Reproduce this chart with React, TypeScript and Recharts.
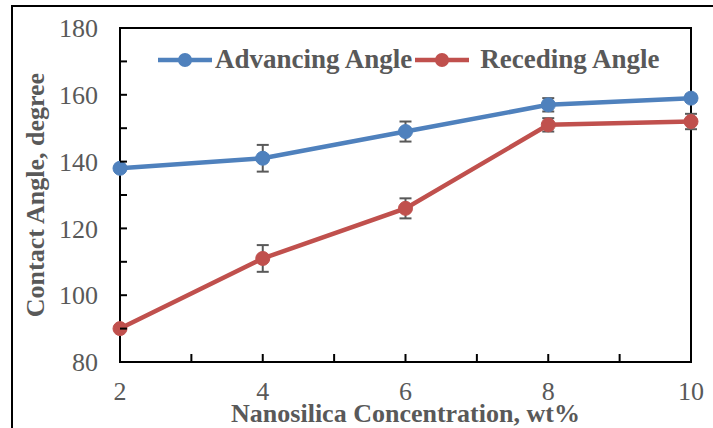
import { ComposedChart, Line, XAxis, YAxis, ErrorBar, Legend, ReferenceArea } from "recharts"

const concentrations = [2, 4, 6, 8, 10]
const advancing = [138, 141, 149, 157, 159]
const advancingErr = [0.8, 4, 3, 2, 1]
const receding = [90, 111, 126, 151, 152]
const recedingErr = [0.5, 4, 3, 2, 2.3]
const xTicks = [2, 3, 4, 5, 6, 7, 8, 9, 10]
const yTicks = [80, 90, 100, 110, 120, 130, 140, 150, 160, 170, 180]

const data = concentrations.map((c, i) => ({
  x: c,
  adv: advancing[i],
  advErr: advancingErr[i],
  rec: receding[i],
  recErr: recedingErr[i],
}))

const FONT = '"Liberation Serif", "Times New Roman", serif'
const GREY = '#595959'
const BLUE = '#4F81BD'
const RED = '#C0504D'

function XTick(props: any) {
  const { x, y, payload } = props
  const v = payload.value
  return (
    <g>
      <line x1={x} y1={y} x2={x} y2={y - 8} stroke="#000" strokeWidth={2} />
      {v % 2 === 0 && (
        <text x={x} y={y + 29} dy="0.35em" textAnchor="middle" fill={GREY} fontSize={26} fontFamily={FONT}>
          {v}
        </text>
      )}
    </g>
  )
}

function YTick(props: any) {
  const { x, y, payload } = props
  const v = payload.value
  return (
    <g>
      <line x1={x} y1={y} x2={x + 7} y2={y} stroke="#000" strokeWidth={2} />
      {v % 20 === 0 && (
        <text x={x - 22} y={y} dy="0.35em" textAnchor="end" fill={GREY} fontSize={26} fontFamily={FONT}>
          {v}
        </text>
      )}
    </g>
  )
}

function LegendContent(props: any) {
  const items = props.payload || []
  return (
    <div style={{ display: 'flex', alignItems: 'center', fontFamily: FONT }}>
      {items.map((it: any, i: number) => (
        <div key={i} style={{ display: 'flex', alignItems: 'center', marginLeft: i === 0 ? 0 : 2 }}>
          <svg width={56} height={16}>
            <line x1={1} y1={8} x2={55} y2={8} stroke={it.color} strokeWidth={4.5} />
            <circle cx={28} cy={8} r={7} fill={it.color} />
          </svg>
          <span style={{ color: GREY, fontWeight: 'bold', fontSize: 27, marginLeft: i === 0 ? 2 : 10 }}>{it.value}</span>
        </div>
      ))}
    </div>
  )
}

export default function App() {
  return (
    <div style={{ position: 'absolute', left: 0, top: 0, width: 713, height: 428, overflow: 'hidden', background: '#fff' }}>
      <div style={{ position: 'absolute', left: 11, top: 5, width: 900, height: 600, border: '2px solid #000' }} />
      <div style={{ position: 'absolute', left: 0, top: 0 }}>
        <ComposedChart width={713} height={428} data={data} margin={{ top: 28, right: 22, bottom: 0, left: 20 }}>
          <XAxis
            dataKey="x"
            type="number"
            domain={[2, 10]}
            ticks={xTicks}
            interval={0}
            tickSize={0}
            tickMargin={0}
            tick={<XTick />}
            axisLine={{ stroke: '#000', strokeWidth: 2 }}
            tickLine={false}
            height={66}
            label={{
              content: (p: any) => {
                const vb = p.viewBox
                return (
                  <text x={vb.x + vb.width / 2} y={413} dy="0.35em" textAnchor="middle" fill={GREY} fontSize={26} fontWeight="bold" fontFamily={FONT}>
                    Nanosilica Concentration, wt%
                  </text>
                )
              },
            }}
          />
          <YAxis
            type="number"
            domain={[80, 180]}
            ticks={yTicks}
            interval={0}
            tickSize={0}
            tickMargin={0}
            tick={<YTick />}
            axisLine={{ stroke: '#000', strokeWidth: 2 }}
            tickLine={false}
            width={100}
            label={{
              content: (p: any) => {
                const vb = p.viewBox
                const cy = vb.y + vb.height / 2
                return (
                  <text x={35} y={cy} dy="0.35em" textAnchor="middle" transform={`rotate(-90 35 ${cy})`} fill={GREY} fontSize={26} fontWeight="bold" fontFamily={FONT}>
                    Contact Angle, degree
                  </text>
                )
              },
            }}
          />
          <ReferenceArea x1={2} x2={10} y1={80} y2={180} fill="none" stroke="#000" strokeWidth={2} />
          <Legend
            verticalAlign="middle"
            align="center"
            layout="horizontal"
            content={<LegendContent />}
            wrapperStyle={{ position: 'absolute', top: 44, left: 157, width: 'auto' }}
          />
          <Line
            dataKey="adv"
            name="Advancing Angle"
            stroke={BLUE}
            strokeWidth={4.5}
            dot={{ r: 7, fill: BLUE, stroke: BLUE, strokeWidth: 1 }}
            activeDot={false}
            isAnimationActive={false}
          >
            <ErrorBar dataKey="advErr" width={6} stroke={GREY} strokeWidth={2} direction="y" />
          </Line>
          <Line
            dataKey="rec"
            name="Receding Angle"
            stroke={RED}
            strokeWidth={4.5}
            dot={{ r: 7, fill: RED, stroke: RED, strokeWidth: 1 }}
            activeDot={false}
            isAnimationActive={false}
          >
            <ErrorBar dataKey="recErr" width={6} stroke={GREY} strokeWidth={2} direction="y" />
          </Line>
        </ComposedChart>
      </div>
    </div>
  )
}
